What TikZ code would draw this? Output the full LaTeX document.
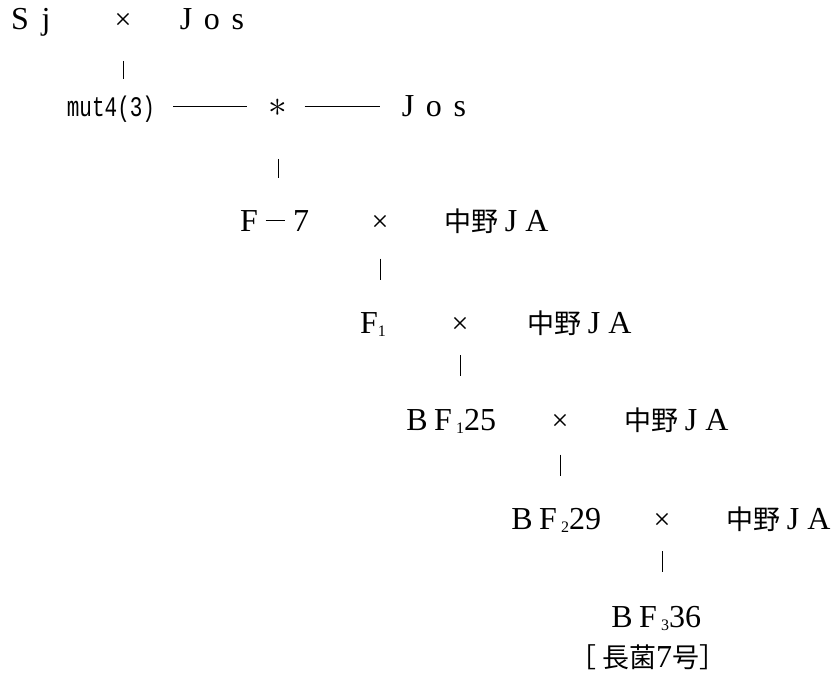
\documentclass[tikz,border=0pt]{standalone}
\usepackage{fontspec}
\setmainfont{Liberation Serif}
\setmonofont{Liberation Mono}
\newfontfamily\cjk{Noto Sans CJK JP}
\usetikzlibrary{calc}
\newcommand\fw[1]{\makebox[26pt]{#1}}
\newcommand\sub[1]{\raisebox{-3pt}{\fontsize{16}{16}\selectfont #1}}
\newcommand\kj[1]{{\cjk\fontsize{27}{30}\selectfont #1}}
\begin{document}
\begin{tikzpicture}[x=1pt,y=-1pt,
  lbl/.style={inner sep=0pt,text height=20pt,text depth=0pt,font=\fontsize{32}{34}\selectfont},
  mono/.style={lbl,font=\ttfamily\fontsize{21}{24}\selectfont},
  cross/.style={lbl,font=\fontsize{30}{30}\selectfont},
  conn/.style={line width=1pt,black},
  bar/.style={line width=1pt,black}]
\useasboundingbox (0,0) rectangle (831,678);
% row 1
\node[lbl] (sj) at (33,19) {\fw{S}\fw{j}};
\node[cross] (x1) at (123,19) {×};
\node[lbl] (jos1) at (212,19) {\fw{J}\fw{o}\fw{s}};
% row 2
\node[mono] (mut) at (111,106) {\scalebox{1}[1.35]{mut4(3)}};
\node[lbl] (star) at (278,106) {\scalebox{1.5}{$\ast$}};
\node[lbl] (jos2) at (434,106) {\fw{J}\fw{o}\fw{s}};
\draw[conn,shorten <=18pt,shorten >=21pt] (mut.east) -- (star.west);
\draw[conn,shorten <=17pt,shorten >=15pt] (star.east) -- (jos2.west);
% row 3
\node[lbl] (f7) at (275,221) {\fw{F}\fw{\rule[10pt]{19pt}{1.1pt}}\fw{7}};
\node[cross] (x3) at (380,221) {×};
\node[lbl] (nj3) at (497,221) {\kj{中野}\fw{J}\fw{A}};
% row 4
\node[lbl] (f1) at (373,323) {F\sub{1}};
\node[cross] (x4) at (460,323) {×};
\node[lbl] (nj4) at (580,323) {\kj{中野}\fw{J}\fw{A}};
% row 5
\node[lbl] (bf1) at (450,420) {\fw{B}\fw{F}\sub{1}25};
\node[cross] (x5) at (560,420) {×};
\node[lbl] (nj5) at (677,420) {\kj{中野}\fw{J}\fw{A}};
% row 6
\node[lbl] (bf2) at (555,519) {\fw{B}\fw{F}\sub{2}29};
\node[cross] (x6) at (662,519) {×};
\node[lbl] (nj6) at (779,519) {\kj{中野}\fw{J}\fw{A}};
% row 7
\node[lbl] (bf3) at (655,617) {\fw{B}\fw{F}\sub{3}36};
\node[lbl] (name) at (648,657) {\kj{［}\,\kj{長菌}7\kj{号］}};
% bars
\draw[bar] ($(x1.center)!.48!(x1.center|-mut.center)$) -- ($(x1.center)!.69!(x1.center|-mut.center)$);
\draw[bar] ($(star.center)!.46!(star.center|-f7.center)$) -- ($(star.center)!.63!(star.center|-f7.center)$);
\draw[bar] ($(x3.center)!.37!(x3.center|-f1.center)$) -- ($(x3.center)!.58!(x3.center|-f1.center)$);
\draw[bar] ($(x4.center)!.33!(x4.center|-bf1.center)$) -- ($(x4.center)!.55!(x4.center|-bf1.center)$);
\draw[bar] ($(x5.center)!.35!(x5.center|-bf2.center)$) -- ($(x5.center)!.57!(x5.center|-bf2.center)$);
\draw[bar] ($(x6.center)!.33!(x6.center|-bf3.center)$) -- ($(x6.center)!.54!(x6.center|-bf3.center)$);
\end{tikzpicture}
\end{document}
